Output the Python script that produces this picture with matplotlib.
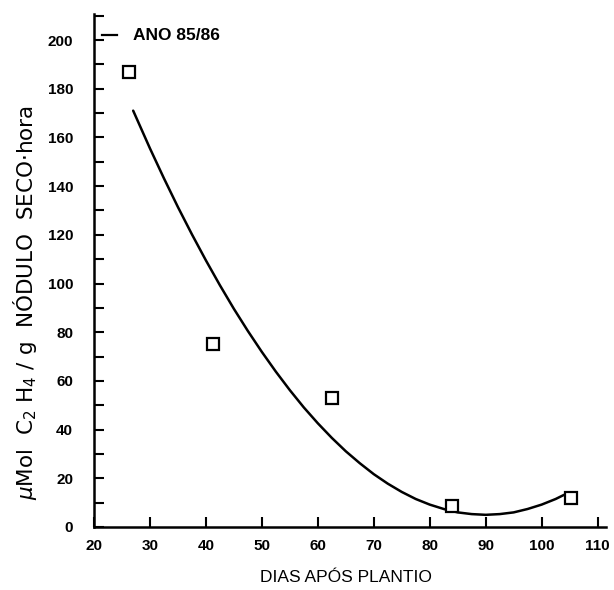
import matplotlib
matplotlib.use("Agg")
import matplotlib.pyplot as plt
from matplotlib.ticker import MultipleLocator

# Observed data (open squares)
dias = [26.2, 41.2, 62.5, 84.0, 105.2]
atividade = [187, 75, 53, 8.6, 12]

# Fitted curve
curva_x = [27, 30, 32.5, 35, 37.5, 40, 42.5, 45, 47.5, 50, 52.5, 55, 57.5, 60,
           62.5, 65, 67.5, 70, 72.5, 75, 77.5, 80, 82.5, 85, 87.5, 90, 92.5,
           95, 97.5, 100, 102.5, 104]
curva_y = [171.0, 155.5, 143.2, 131.4, 120.2, 109.5, 99.3, 89.6, 80.5, 71.9,
           63.8, 56.2, 49.1, 42.6, 36.6, 31.1, 26.2, 21.7, 17.8, 14.4, 11.5,
           9.2, 7.4, 6.0, 5.3, 5.0, 5.3, 6.0, 7.4, 9.2, 11.5, 13.2]

x_ticks = [20, 30, 40, 50, 60, 70, 80, 90, 100, 110]
y_ticks = [0, 20, 40, 60, 80, 100, 120, 140, 160, 180, 200]
legenda = "ANO 85/86"

plt.rcParams['font.family'] = ['Liberation Sans', 'DejaVu Sans']

W, H = 614, 590
fig = plt.figure(figsize=(W / 100, H / 100), dpi=100)
ax = fig.add_axes([94 / W, 63 / H, 512 / W, 513 / H])

ax.plot(curva_x, curva_y, color='black', lw=1.8, solid_capstyle='round',
        solid_joinstyle='round')
ax.plot(dias, atividade, linestyle='none', marker='s', markersize=8,
        markerfacecolor='white', markeredgecolor='black', markeredgewidth=1.6)

ax.set_xlim(20, 111.5)
ax.set_ylim(0, 210.7)
ax.set_xticks(x_ticks)
ax.set_yticks(y_ticks)
ax.yaxis.set_minor_locator(MultipleLocator(10))

for s in ['top', 'right']:
    ax.spines[s].set_visible(False)
for s in ['left', 'bottom']:
    ax.spines[s].set_linewidth(1.8)

ax.tick_params(axis='both', which='both', direction='in', width=1.5,
               colors='black')
ax.tick_params(axis='x', which='major', length=7, labelsize=11, pad=9)
ax.tick_params(axis='y', which='major', length=7, labelsize=11, pad=15)
ax.tick_params(axis='y', which='minor', length=7)
for lab in ax.get_xticklabels() + ax.get_yticklabels():
    lab.set_fontweight('bold')

fig.text(346 / W, 1 - 577 / H, "DIAS APÓS PLANTIO", fontsize=12.5,
         ha='center', va='center')
fig.text(25 / W, 1 - 303 / H,
         r"$\mu$Mol  C$_2$ H$_4$ / g  NÓDULO  SECO$\cdot$hora",
         fontsize=15.5, rotation=90, ha='center', va='center',
         family=['DejaVu Sans'])

# legend entry
ax.plot([21.4, 24.1], [202, 202], color='black', lw=1.6)
ax.text(27.0, 202, legenda, fontsize=12.5, fontweight='bold', va='center',
        ha='left')

fig.savefig("out.png", dpi=100)
